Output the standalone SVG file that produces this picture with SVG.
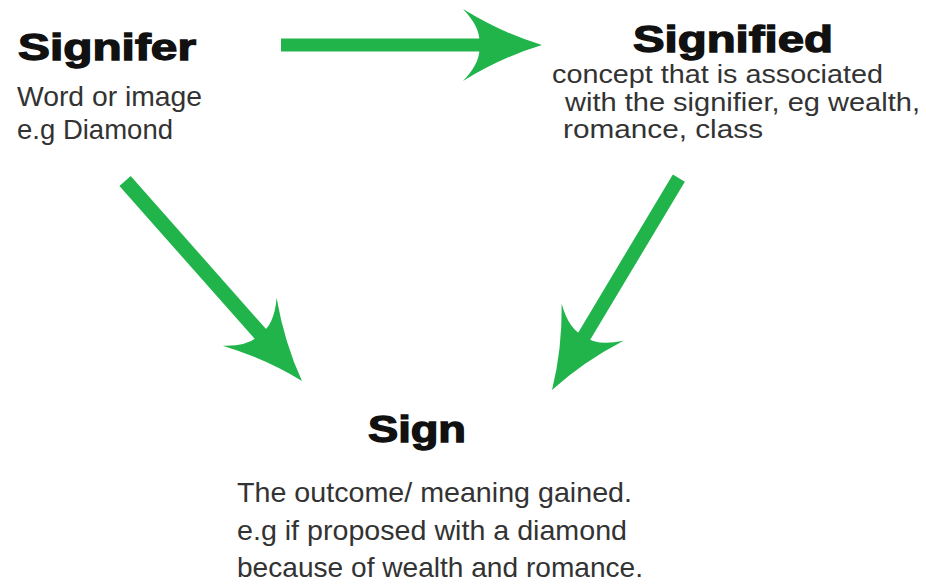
<svg xmlns="http://www.w3.org/2000/svg" width="926" height="584" viewBox="0 0 926 584">
  <style>
    .title { font-family: "Liberation Sans", Arial, sans-serif; font-weight: bold; font-size: 36px; fill: #111; stroke: #111; stroke-width: 1.3px; }
    .body { font-family: "Liberation Sans", Arial, sans-serif; font-size: 28px; fill: #333; }
    .tight { font-size: 26px; }
    .arrow { fill: #20b44b; }
  </style>
  <defs>
    <path id="head" d="M 0 0 Q -40 -12 -79 -36 Q -60 -16 -63 0 Q -60 16 -79 36 Q -40 12 0 0 Z"/>
  </defs>
  <rect width="926" height="584" fill="#ffffff"/>
  <g id="connectors" class="arrow">
    <g id="arrow-signifier-signified" transform="translate(542,45)">
      <rect x="-261" y="-6.5" width="203" height="13"/>
      <use href="#head"/>
    </g>
    <g id="arrow-signifier-sign" transform="translate(302,381) rotate(48.5)">
      <rect x="-267" y="-7.5" width="209" height="15"/>
      <use href="#head"/>
    </g>
    <g id="arrow-signified-sign" transform="translate(552,390) rotate(120.9)">
      <rect x="-247" y="-7" width="189" height="14"/>
      <use href="#head"/>
    </g>
  </g>
  <g id="node-signifier">
    <text class="title" x="18" y="60" textLength="178" lengthAdjust="spacingAndGlyphs">Signifer</text>
    <text class="body" x="17" y="106" textLength="185" lengthAdjust="spacingAndGlyphs">Word or image</text>
    <text class="body" x="17" y="139" textLength="156" lengthAdjust="spacingAndGlyphs">e.g Diamond</text>
  </g>
  <g id="node-signified">
    <text class="title" x="633" y="52" textLength="200" lengthAdjust="spacingAndGlyphs">Signified</text>
    <text class="body tight" x="552" y="83" textLength="331" lengthAdjust="spacingAndGlyphs">concept that is associated</text>
    <text class="body tight" x="565" y="111" textLength="355" lengthAdjust="spacingAndGlyphs">with the signifier, eg wealth,</text>
    <text class="body tight" x="563" y="138" textLength="200" lengthAdjust="spacingAndGlyphs">romance, class</text>
  </g>
  <g id="node-sign">
    <text class="title" x="368" y="442" textLength="98" lengthAdjust="spacingAndGlyphs">Sign</text>
    <text class="body" x="237" y="502" textLength="395" lengthAdjust="spacingAndGlyphs">The outcome/ meaning gained.</text>
    <text class="body" x="237" y="540" textLength="390" lengthAdjust="spacingAndGlyphs">e.g if proposed with a diamond</text>
    <text class="body" x="237" y="577" textLength="406" lengthAdjust="spacingAndGlyphs">because of wealth and romance.</text>
  </g>
</svg>
